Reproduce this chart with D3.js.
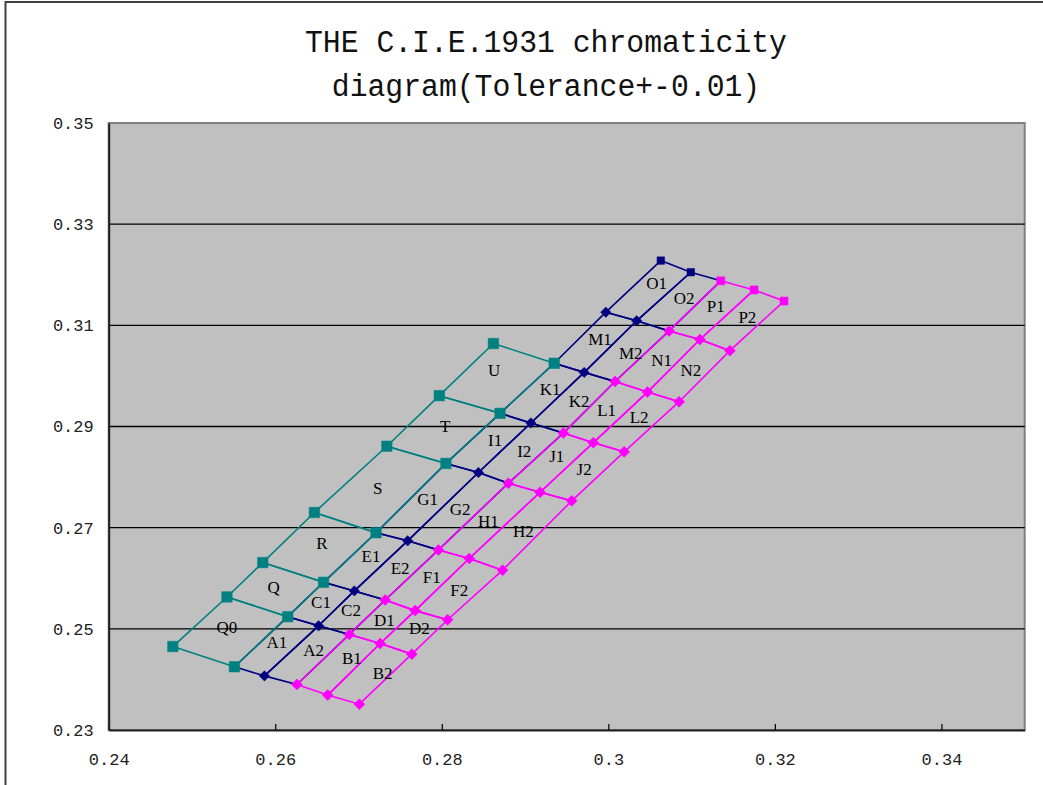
<!DOCTYPE html>
<html>
<head>
<meta charset="utf-8">
<script src="https://cdn.jsdelivr.net/npm/d3@7"></script>
<style>
  html, body { margin: 0; padding: 0; background: #fff; }
  svg { display: block; }
</style>
</head>
<body>
<svg id="chart" width="1043" height="785"></svg>
<script>
// ---------------- DATA ----------------
const titleLines = ["THE C.I.E.1931 chromaticity", "diagram(Tolerance+-0.01)"];
const xTicks = [0.24, 0.26, 0.28, 0.30, 0.32, 0.34];
const xTickLabels = ["0.24", "0.26", "0.28", "0.3", "0.32", "0.34"];
const yTicks = [0.23, 0.25, 0.27, 0.29, 0.31, 0.33, 0.35];
const yTickLabels = ["0.23", "0.25", "0.27", "0.29", "0.31", "0.33", "0.35"];
const gridValues = [0.25, 0.27, 0.29, 0.31, 0.33];

// corner points of the bins, one array per column line (bottom row first), [x, y]
const col0 = [[0.2477,0.2465],[0.2542,0.2563],[0.2585,0.2631],[0.2647,0.2730],[0.2734,0.2861],[0.2797,0.2961],[0.2862,0.3064]];
const col1 = [[0.2551,0.2425],[0.2615,0.2524],[0.2658,0.2592],[0.2721,0.2690],[0.2805,0.2827],[0.2870,0.2926],[0.2935,0.3025],[0.2997,0.3126],[0.3063,0.3228]];
const col2 = [[0.2587,0.2407],[0.2652,0.2506],[0.2695,0.2575],[0.2759,0.2674],[0.2844,0.2809],[0.2907,0.2907],[0.2971,0.3007],[0.3034,0.3109],[0.3099,0.3205]];
const col3 = [[0.2626,0.2390],[0.2689,0.2489],[0.2732,0.2557],[0.2796,0.2656],[0.2880,0.2788],[0.2946,0.2887],[0.3008,0.2989],[0.3073,0.3089],[0.3135,0.3188]];
const col4 = [[0.2663,0.2369],[0.2726,0.2471],[0.2768,0.2536],[0.2833,0.2639],[0.2918,0.2770],[0.2982,0.2868],[0.3047,0.2968],[0.3110,0.3072],[0.3175,0.3170]];
const col5 = [[0.2701,0.2351],[0.2764,0.2450],[0.2807,0.2518],[0.2873,0.2616],[0.2956,0.2753],[0.3019,0.2850],[0.3085,0.2949],[0.3146,0.3050],[0.3211,0.3148]];

// bin names per strip (bottom to top)
const tealBins = ["Q0","Q","R","S","T","U"];
const navyBins1 = ["A1","C1","E1","G1","I1","K1","M1","O1"];
const navyBins2 = ["A2","C2","E2","G2","I2","K2","M2","O2"];
const magBins1 = ["B1","D1","F1","H1","J1","L1","N1","P1"];
const magBins2 = ["B2","D2","F2","H2","J2","L2","N2","P2"];

// label positions [name, x, y]
const binLabels = [
  ["Q0",0.2542,0.2503],["Q",0.2598,0.2583],["R",0.2656,0.2670],["S",0.2723,0.2778],["T",0.2804,0.2900],["U",0.2863,0.3012],
  ["A1",0.2602,0.2473],["C1",0.2655,0.2552],["E1",0.2715,0.2644],["G1",0.2783,0.2756],["I1",0.2864,0.2873],["K1",0.2930,0.2974],["M1",0.2990,0.3072],["O1",0.3058,0.3183],
  ["A2",0.2646,0.2458],["C2",0.2691,0.2537],["E2",0.2750,0.2620],["G2",0.2822,0.2736],["I2",0.2899,0.2852],["K2",0.2965,0.2950],["M2",0.3027,0.3046],["O2",0.3091,0.3153],
  ["B1",0.2692,0.2442],["D1",0.2731,0.2517],["F1",0.2788,0.2603],["H1",0.2856,0.2713],["J1",0.2938,0.2842],["L1",0.2998,0.2933],["N1",0.3064,0.3031],["P1",0.3129,0.3138],
  ["B2",0.2729,0.2413],["D2",0.2773,0.2502],["F2",0.2821,0.2577],["H2",0.2898,0.2693],["J2",0.2971,0.2815],["L2",0.3037,0.2919],["N2",0.3099,0.3012],["P2",0.3167,0.3117]
];

// ---------------- STYLE ----------------
const TEAL = "#008080", NAVY = "#000080", MAG = "#FF00FF";
const plot = { left: 108.7, right: 1024.7, top: 123, bottom: 730 };

const svg = d3.select("#chart");
const x = d3.scaleLinear().domain([0.24, 0.35]).range([plot.left, plot.right]);
const y = d3.scaleLinear().domain([0.23, 0.35]).range([plot.bottom, plot.top]);

// outer frame (top and left edges visible)
svg.append("path").attr("d", "M5.5,785 V2 H1043").attr("fill", "none")
  .attr("stroke", "#404040").attr("stroke-width", 2);

// title
const title = svg.append("g");
title.selectAll("text").data(titleLines).join("text")
  .attr("x", 546).attr("y", (d, i) => 52 + i * 44)
  .attr("text-anchor", "middle")
  .attr("font-family", "'Liberation Mono', 'DejaVu Sans Mono', monospace")
  .attr("font-size", 31)
  .attr("textLength", d => d.length * 17.85)
  .attr("lengthAdjust", "spacingAndGlyphs")
  .attr("fill", "#111")
  .text(d => d);

// plot background
svg.append("rect").attr("x", plot.left).attr("y", plot.top)
  .attr("width", plot.right - plot.left).attr("height", plot.bottom - plot.top)
  .attr("fill", "#C0C0C0").attr("stroke", "#808080").attr("stroke-width", 2);

// gridlines
svg.append("g").selectAll("line").data(gridValues).join("line")
  .attr("x1", plot.left).attr("x2", plot.right)
  .attr("y1", d => y(d)).attr("y2", d => y(d))
  .attr("stroke", "#000").attr("stroke-width", 1.4);

// axes
const fontTick = "'Liberation Mono', 'DejaVu Sans Mono', monospace";
const xAxis = svg.append("g").attr("transform", `translate(0,${plot.bottom})`)
  .call(d3.axisBottom(x).tickValues(xTicks).tickFormat((d, i) => xTickLabels[i])
        .tickSizeInner(-6).tickSizeOuter(0).tickPadding(23));
xAxis.select(".domain").attr("stroke", "#202020").attr("stroke-width", 2);
xAxis.selectAll(".tick line").attr("stroke", "#000").attr("stroke-width", 1.2);
xAxis.selectAll("text").attr("font-family", fontTick).attr("font-size", 17).attr("fill", "#222");

const yAxis = svg.append("g").attr("transform", `translate(${plot.left},0)`)
  .call(d3.axisLeft(y).tickValues(yTicks).tickFormat((d, i) => yTickLabels[i])
        .tickSize(0).tickPadding(15));
yAxis.select(".domain").attr("stroke", "#202020").attr("stroke-width", 2);
yAxis.selectAll("text").attr("font-family", fontTick).attr("font-size", 17).attr("fill", "#222");

// bins
const line = d3.line().x(d => x(d[0])).y(d => y(d[1]));
function strip(names, a, b, color) {
  const polys = names.map((n, i) => ({ name: n, pts: [a[i], a[i + 1], b[i + 1], b[i], a[i]] }));
  svg.append("g").selectAll("path").data(polys).join("path")
    .attr("d", d => line(d.pts)).attr("fill", "none")
    .attr("stroke", color).attr("stroke-width", 1.6).attr("stroke-linejoin", "round");
}
strip(navyBins1, col1, col2, NAVY);
strip(navyBins2, col2, col3, NAVY);
strip(tealBins, col0, col1, TEAL);
strip(magBins1, col3, col4, MAG);
strip(magBins2, col4, col5, MAG);

// markers
function square(s) { return `M${-s/2},${-s/2}h${s}v${s}h${-s}z`; }
function diamond(r) { return `M0,${-r}L${r},0L0,${r}L${-r},0z`; }
function markers(pts, shapeFn, color) {
  svg.append("g").selectAll("path").data(pts).join("path")
    .attr("transform", d => `translate(${x(d[0])},${y(d[1])})`)
    .attr("d", shapeFn).attr("fill", color).attr("stroke", color).attr("stroke-width", 0.5);
}
markers(col2.slice(0, 8), () => diamond(5.2), NAVY);
markers(col1.slice(7, 8), () => diamond(5.2), NAVY);
markers([col1[8], col2[8]], () => square(7.5), NAVY);
markers(col0, () => square(10.5), TEAL);
markers(col1.slice(0, 7), () => square(10.5), TEAL);
[col3, col4, col5].forEach(c => {
  markers(c.slice(0, 8), () => diamond(5.5), MAG);
  markers(c.slice(8), () => square(8), MAG);
});

// labels
svg.append("g").selectAll("text").data(binLabels).join("text")
  .attr("x", d => x(d[1])).attr("y", d => y(d[2]))
  .attr("dy", "0.35em").attr("text-anchor", "middle")
  .attr("font-family", "'Liberation Serif', 'Times New Roman', serif")
  .attr("font-size", 17).attr("fill", "#000")
  .text(d => d[0]);
</script>
</body>
</html>
